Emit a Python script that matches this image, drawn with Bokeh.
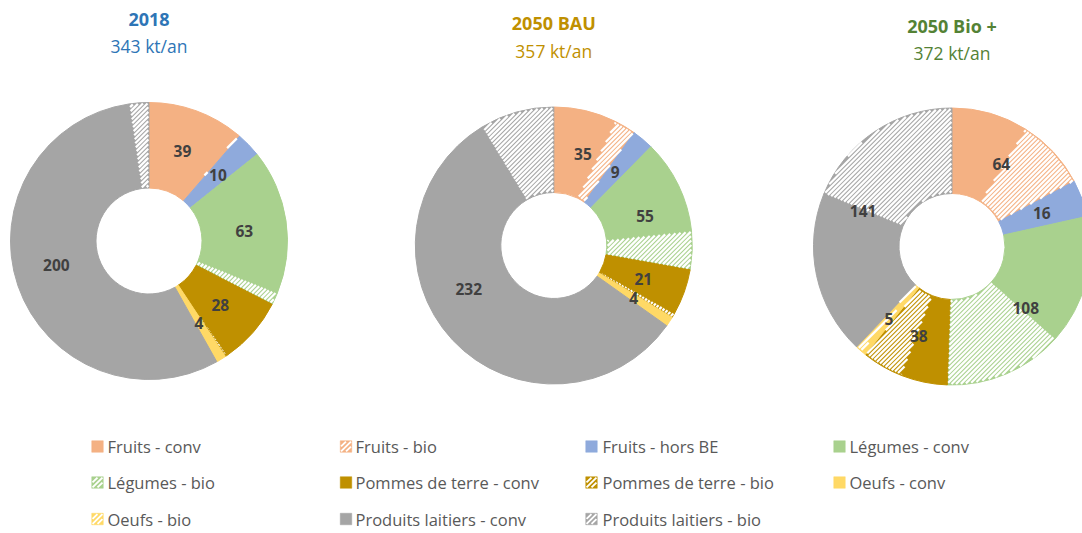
import math
from bokeh.plotting import figure
from bokeh.models import Range1d, ColumnDataSource
from bokeh.core.properties import value
from bokeh.embed import file_html
from bokeh.resources import INLINE

# ---------------- data ----------------
categories = ["Fruits - conv", "Fruits - bio", "Fruits - hors BE", "Légumes - conv",
              "Légumes - bio", "Pommes de terre - conv", "Pommes de terre - bio", "Oeufs - conv",
              "Oeufs - bio", "Produits laitiers - conv", "Produits laitiers - bio"]
label_group = [0, 0, 1, 2, 2, 3, 3, 4, 4, 5, 5]
colors = ["#F4B183", "#F4B183", "#8FAADC", "#A9D18E", "#A9D18E", "#BF9000", "#BF9000",
          "#FFD966", "#FFD966", "#A5A5A5", "#A5A5A5"]
is_bio = [False, True, False, False, True, False, True, False, True, False, True]

values_2018 = [38, 1, 10, 58, 5, 27, 1, 3.6, 0.4, 192, 8]
values_bau = [26, 9, 9, 39, 16, 19, 2, 3.7, 0.3, 201, 31]
values_bioplus = [33, 31, 16, 56, 52, 20, 18, 2, 3, 71, 70]

scenario_titles = ["2018", "2050 BAU", "2050 Bio +"]
scenario_totals = ["343 kt/an", "357 kt/an", "372 kt/an"]
title_colors = ["#2E75B6", "#BF9000", "#548235"]

# ---------------- layout ----------------
W, H = 1082, 533


def Y(y_ref):
    return H - y_ref


p = figure(width=W, height=H, output_backend="svg", toolbar_location=None,
           x_range=Range1d(0, W), y_range=Range1d(0, H),
           min_border=0, outline_line_color=None)
p.axis.visible = False
p.grid.visible = False
p.background_fill_color = "white"

centers = [(148.5, 240.5), (553.3, 245.0), (951.5, 246.0)]
title_y = [(18.5, 45.5), (22.5, 50), (25.5, 52.5)]
R_OUT, R_IN = 138.5, 53
R_LAB = (R_OUT + R_IN) / 2
HATCH_STEP = 4.6


def wedge_hatch(cx, cy, a0, span):
    """white '/' stripes inside an annular sector going clockwise from a0 by span"""
    xs, ys = [], []
    lim = 2 * R_OUT
    c = -lim
    dt = 0.25
    while c <= lim:
        t = -R_OUT * 1.5
        run = None
        pu = pv = 0.0
        while t <= R_OUT * 1.5:
            u = t + c / 2
            v = t - c / 2
            r = math.hypot(u, v)
            inside = False
            if R_IN + 0.8 <= r <= R_OUT - 0.8:
                th = math.atan2(v, u)
                d = (a0 - th) % (2 * math.pi)
                margin = 0.6 / r
                inside = margin <= d <= span - margin
            if inside and run is None:
                run = (u, v)
            elif not inside and run is not None:
                xs.append([cx + run[0], cx + pu])
                ys.append([cy + run[1], cy + pv])
                run = None
            pu, pv = u, v
            t += dt
        if run is not None:
            xs.append([cx + run[0], cx + pu])
            ys.append([cy + run[1], cy + pv])
        c += HATCH_STEP
    return xs, ys


all_values = [values_2018, values_bau, values_bioplus]
hx, hy = [], []

for k, vals in enumerate(all_values):
    cx, cy = centers[k]
    cyd = Y(cy)
    total = sum(vals)
    starts, ends = [], []
    c = 0.0
    for v in vals:
        starts.append(math.pi / 2 - 2 * math.pi * c / total)
        c += v
        ends.append(math.pi / 2 - 2 * math.pi * c / total)
    src = ColumnDataSource(dict(
        x=[cx] * len(vals), y=[cyd] * len(vals), start=starts, end=ends, color=colors))
    p.annular_wedge(x="x", y="y", inner_radius=R_IN, outer_radius=R_OUT,
                    start_angle="start", end_angle="end", direction="clock",
                    fill_color="color", line_color="color", line_width=1, source=src)
    for i, b in enumerate(is_bio):
        if b:
            xs, ys = wedge_hatch(cx, cyd, starts[i], starts[i] - ends[i])
            hx += xs
            hy += ys

p.multi_line(xs=hx, ys=hy, line_color="white", line_width=2.2, line_cap="butt")

for k, vals in enumerate(all_values):
    cx, cy = centers[k]
    total = sum(vals)
    ngroups = max(label_group) + 1
    gsum = [0.0] * ngroups
    gstart = [None] * ngroups
    c = 0.0
    for v, g in zip(vals, label_group):
        if gstart[g] is None:
            gstart[g] = c
        gsum[g] += v
        c += v
    lx, ly, lt = [], [], []
    for g in range(ngroups):
        mid = gstart[g] + gsum[g] / 2
        ang = math.pi / 2 - 2 * math.pi * mid / total
        lx.append(cx + R_LAB * math.cos(ang))
        ly.append(Y(cy) + R_LAB * math.sin(ang))
        lt.append(str(int(round(gsum[g]))))
    p.text(x=lx, y=ly, text=lt, text_align="center", text_baseline="middle",
           text_font=value("Open Sans"), text_font_style="bold",
           text_font_size="15.5px", text_color="#404040")

    p.text(x=[cx], y=[Y(title_y[k][0])], text=[scenario_titles[k]], text_align="center",
           text_baseline="middle", text_font=value("Open Sans"), text_font_style="bold",
           text_font_size="18px", text_color=title_colors[k])
    p.text(x=[cx], y=[Y(title_y[k][1])], text=[scenario_totals[k]], text_align="center",
           text_baseline="middle", text_font=value("Open Sans"),
           text_font_size="17.5px", text_color=title_colors[k])

# ---------------- legend ----------------
marker_x = [97, 345.5, 591, 839]
text_x = [107, 355, 602, 849]
row_y = [446, 482, 518.5]
MS = 11.5
mx, my, tx, ty, mcol = [], [], [], [], []
lhx, lhy = [], []
for i, name in enumerate(categories):
    r, col = divmod(i, 4)
    x0, y0 = marker_x[col], Y(row_y[r])
    mx.append(x0)
    my.append(y0)
    tx.append(text_x[col])
    ty.append(y0)
    mcol.append(colors[i])
    if is_bio[i]:
        h = MS / 2 - 0.8
        for cc in (-5.0, 0.0, 5.0):
            ua, va = max(-h, -h + cc), max(-h, -h + cc) - cc
            ub, vb = min(h, h + cc), min(h, h + cc) - cc
            if ub > ua:
                lhx.append([x0 + ua, x0 + ub])
                lhy.append([y0 + va, y0 + vb])
leg_src = ColumnDataSource(dict(x=mx, y=my, color=mcol))
p.rect(x="x", y="y", width=MS, height=MS, fill_color="color", line_color="color",
       line_width=0.5, source=leg_src)
p.multi_line(xs=lhx, ys=lhy, line_color="white", line_width=1.9, line_cap="butt")
p.text(x=tx, y=ty, text=categories, text_align="left", text_baseline="middle",
       text_font=value("Open Sans"), text_font_size="16.5px", text_color="#595959")

open("out.html", "w").write(file_html(p, INLINE))
